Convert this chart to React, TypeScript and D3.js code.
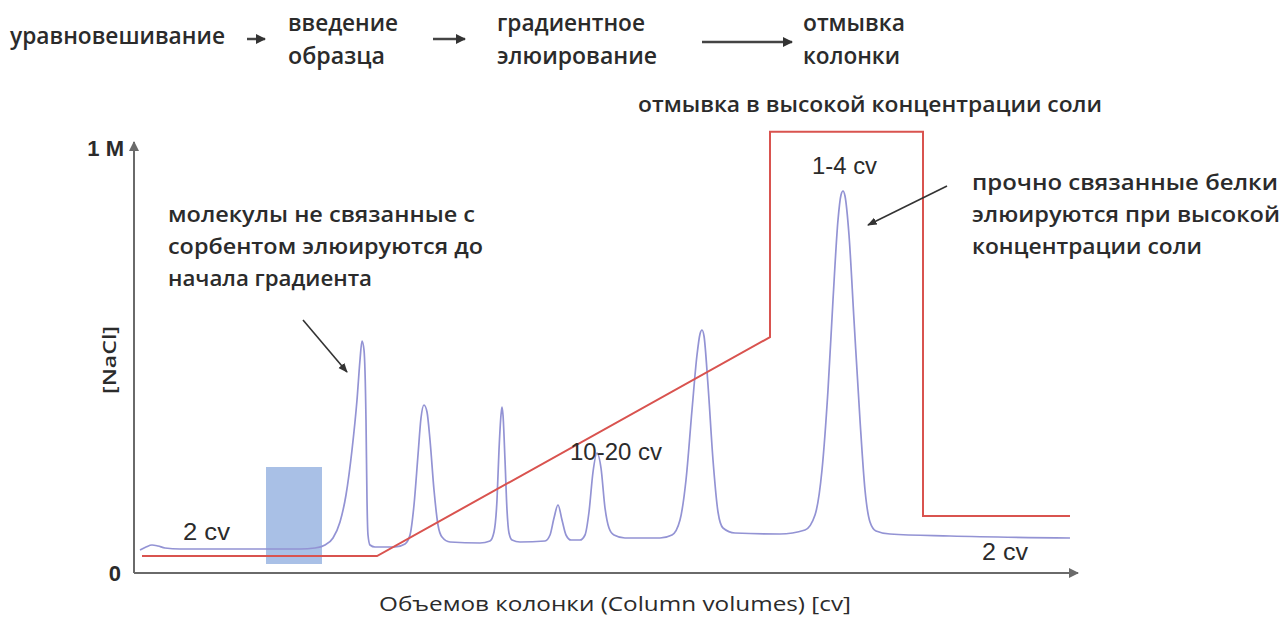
import React from "react";
import * as d3 from "d3";

const WIDTH = 1283;
const HEIGHT = 617;

// Workflow steps shown across the top
const stepLabels: string[][] = [
  ["уравновешивание"],
  ["введение", "образца"],
  ["градиентное", "элюирование"],
  ["отмывка", "колонки"],
];

// Salt concentration axis ticks
const yTickValues = [0, 1];
const yTickLabels = ["0", "1 M"];

// NaCl gradient program: column volume vs. concentration (M)
const saltVolume = [0.8, 24.3, 63.6, 63.6, 78.9, 78.9, 93.6];
const saltConc = [0.04, 0.04, 0.555, 1.038, 1.038, 0.134, 0.134];

// UV trace: [column volume, signal]
const uvTrace: [number, number][] = [
  [0.6, 2.3], [1.2, 2.6], [1.8, 2.8], [2.4, 2.7], [3.1, 2.5], [4.6, 2.4],
  [16.6, 2.4], [18.1, 2.5], [19.1, 2.8], [19.9, 3.5], [20.6, 5.1], [21.2, 7.8],
  [21.8, 12.3], [22.3, 17.3], [22.6, 21.3], [22.8, 23.2], [23.0, 22.3], [23.2, 15.3],
  [23.3, 7.3], [23.4, 3.8], [23.6, 2.8], [24.1, 2.6],
  [26.1, 2.6], [27.1, 2.9], [27.6, 3.8], [28.0, 6.8], [28.4, 11.8], [28.7, 15.5],
  [29.0, 16.8], [29.3, 16.1], [29.6, 13.3], [30.0, 8.3], [30.4, 4.8], [30.8, 3.6], [31.6, 3.1],
  [34.6, 3.0], [35.6, 3.2], [36.0, 4.1], [36.3, 7.3], [36.5, 12.3], [36.7, 15.8],
  [36.8, 16.6], [36.9, 15.8], [37.1, 11.3], [37.3, 6.3], [37.5, 4.0], [37.8, 3.3], [38.6, 3.1],
  [41.1, 3.2], [41.6, 3.8], [42.0, 5.5], [42.4, 6.8], [42.8, 5.3], [43.2, 3.8], [43.7, 3.3],
  [44.6, 3.3], [45.1, 3.8], [45.5, 6.1], [45.9, 10.1], [46.3, 12.0], [46.7, 10.5],
  [47.1, 6.5], [47.5, 4.5], [48.0, 3.8], [49.1, 3.5], [52.6, 3.5],
  [53.8, 3.8], [54.6, 5.3], [55.2, 9.3], [55.8, 16.3], [56.3, 21.8], [56.6, 23.9],
  [56.8, 24.3], [57.0, 23.7], [57.4, 18.8], [57.9, 11.3], [58.4, 6.1], [58.9, 4.5],
  [60.1, 4.0], [64.6, 3.9],
  [67.1, 4.3], [68.1, 5.8], [68.8, 10.3], [69.4, 18.3], [69.9, 27.3], [70.4, 35.3],
  [70.7, 37.8], [70.9, 38.2], [71.1, 37.7], [71.5, 33.8], [72.0, 25.3], [72.6, 15.3],
  [73.1, 8.3], [73.6, 5.1], [74.2, 4.2], [75.6, 3.9], [81.6, 3.7], [93.6, 3.5],
];

// Sample application zone (column volume range and signal range)
const sampleZoneVolume = [13.2, 18.8];
const sampleZoneSignal = [0.9, 10.6];

const unboundNote = ["молекулы не связанные с", "сорбентом элюируются до", "начала градиента"];
const boundNote = ["прочно связанные белки", "элюируются при высокой", "концентрации соли"];
const highSaltLabel = "отмывка в высокой концентрации соли";
const xAxisLabel = "Объемов колонки (Column volumes) [cv]";
const yAxisLabel = "[NaCl]";
const volumeLabels = ["2 cv", "10-20 cv", "1-4 cv", "2 cv"];

const TEXT = "#2b2b2b";
const AXIS = "#6a6a6a";
const SANS = "'Open Sans', 'Noto Sans', sans-serif";
const ARIAL = "'Liberation Sans', Arial, sans-serif";

export default function App() {
  const x = d3.scaleLinear().domain([0, 94.1]).range([134, 1075]);
  const ySalt = d3.scaleLinear().domain([0, 1]).range([573, 148]);
  const yUv = d3.scaleLinear().domain([0, 42.5]).range([573, 148]);

  const saltPoints: [number, number][] = saltVolume.map((v, i) => [v, saltConc[i]]);
  const saltPath = d3
    .line<[number, number]>()
    .x((d) => x(d[0]))
    .y((d) => ySalt(d[1]))(saltPoints) as string;

  const uvPath = d3
    .line<[number, number]>()
    .x((d) => x(d[0]))
    .y((d) => yUv(d[1]))
    .curve(d3.curveMonotoneX)(uvTrace) as string;

  const x0 = x(0);
  const yBase = ySalt(0);

  const headerX = [10, 288, 497, 803];
  const headerW = [[215], [110, 97], [148, 160], [102, 97]];

  return (
    <svg
      width={WIDTH}
      height={HEIGHT}
      style={{ position: "absolute", left: 0, top: 0, background: "#fff" }}
    >
      <defs>
        <marker id="axisHead" viewBox="0 0 10 10" refX="9" refY="5" markerWidth="5" markerHeight="5" orient="auto">
          <path d="M0,0 L10,5 L0,10 z" fill={AXIS} />
        </marker>
        <marker id="noteHead" viewBox="0 0 10 10" refX="9" refY="5" markerWidth="6" markerHeight="6" orient="auto">
          <path d="M0,1 L10,5 L0,9 z" fill="#333" />
        </marker>
        <marker id="stepHead" viewBox="0 0 10 10" refX="9" refY="5" markerWidth="4" markerHeight="4" orient="auto">
          <path d="M0,0 L10,5 L0,10 z" fill="#333" />
        </marker>
      </defs>

      {/* workflow header */}
      <g fill={TEXT} fontFamily={SANS} fontSize={23} fontWeight={600}>
        {stepLabels.map((lines, i) =>
          lines.map((t, j) => (
            <text
              key={`${i}-${j}`}
              x={headerX[i]}
              y={lines.length === 1 ? 44 : j === 0 ? 31 : 64}
              textLength={headerW[i][j]}
              lengthAdjust="spacingAndGlyphs"
            >
              {t}
            </text>
          ))
        )}
      </g>
      <g stroke="#444" strokeWidth={2.5}>
        <line x1={247} y1={39} x2={265} y2={39} markerEnd="url(#stepHead)" />
        <line x1={433} y1={39} x2={465} y2={39} markerEnd="url(#stepHead)" />
        <line x1={702} y1={42} x2={792} y2={42} markerEnd="url(#stepHead)" />
      </g>

      {/* sample application zone */}
      <rect
        x={x(sampleZoneVolume[0])}
        y={yUv(sampleZoneSignal[1])}
        width={x(sampleZoneVolume[1]) - x(sampleZoneVolume[0])}
        height={yUv(sampleZoneSignal[0]) - yUv(sampleZoneSignal[1])}
        fill="#6f96d6"
        opacity={0.6}
      />

      {/* UV trace */}
      <path d={uvPath} fill="none" stroke="#9393d4" strokeWidth={1.7} />

      {/* NaCl gradient */}
      <path d={saltPath} fill="none" stroke="#d9534f" strokeWidth={2} />

      {/* axes */}
      <line x1={x0} y1={yBase} x2={x0} y2={ySalt(1) - 6} stroke={AXIS} strokeWidth={2} markerEnd="url(#axisHead)" />
      <line x1={x0} y1={yBase} x2={x(94.4)} y2={yBase} stroke={AXIS} strokeWidth={2} markerEnd="url(#axisHead)" />

      <g fill={TEXT} fontFamily={ARIAL} fontSize={22} textAnchor="end" fontWeight="bold">
        {yTickValues.map((v, i) => (
          <text key={v} x={i === 0 ? 121 : 124} y={ySalt(v) + 8}>
            {yTickLabels[i]}
          </text>
        ))}
      </g>
      <text
        transform="translate(116,360) rotate(-90)"
        textAnchor="middle"
        fill={TEXT}
        fontFamily={SANS}
        fontSize={18}
        fontWeight={600}
        textLength={68}
        lengthAdjust="spacingAndGlyphs"
      >
        {yAxisLabel}
      </text>
      <text
        x={379}
        y={611}
        fill={TEXT}
        fontFamily={SANS}
        fontSize={20}
        textLength={472}
        lengthAdjust="spacingAndGlyphs"
      >
        {xAxisLabel}
      </text>

      {/* step volume labels */}
      <g fill={TEXT} fontFamily={ARIAL} fontSize={24}>
        <text x={183} y={540} textLength={47} lengthAdjust="spacingAndGlyphs">{volumeLabels[0]}</text>
        <text x={570} y={460} textLength={92} lengthAdjust="spacingAndGlyphs">{volumeLabels[1]}</text>
        <text x={812} y={174} textLength={65} lengthAdjust="spacingAndGlyphs">{volumeLabels[2]}</text>
        <text x={982} y={560} textLength={46} lengthAdjust="spacingAndGlyphs">{volumeLabels[3]}</text>
      </g>

      {/* annotations */}
      <g fill={TEXT} fontFamily={SANS} fontSize={22} fontWeight={600}>
        {unboundNote.map((t, i) => (
          <text key={t} x={168} y={222 + i * 32} textLength={[307, 315, 204][i]} lengthAdjust="spacingAndGlyphs">
            {t}
          </text>
        ))}
        {boundNote.map((t, i) => (
          <text key={t} x={972} y={190 + i * 32} textLength={[306, 308, 230][i]} lengthAdjust="spacingAndGlyphs">
            {t}
          </text>
        ))}
        <text x={638} y={112} textLength={464} lengthAdjust="spacingAndGlyphs">
          {highSaltLabel}
        </text>
      </g>
      <g stroke="#333" strokeWidth={1.6}>
        <line x1={303} y1={320} x2={x(21.3)} y2={yUv(20.1)} markerEnd="url(#noteHead)" />
        <line x1={947} y1={186} x2={x(73.4)} y2={yUv(34.8)} markerEnd="url(#noteHead)" />
      </g>
    </svg>
  );
}
